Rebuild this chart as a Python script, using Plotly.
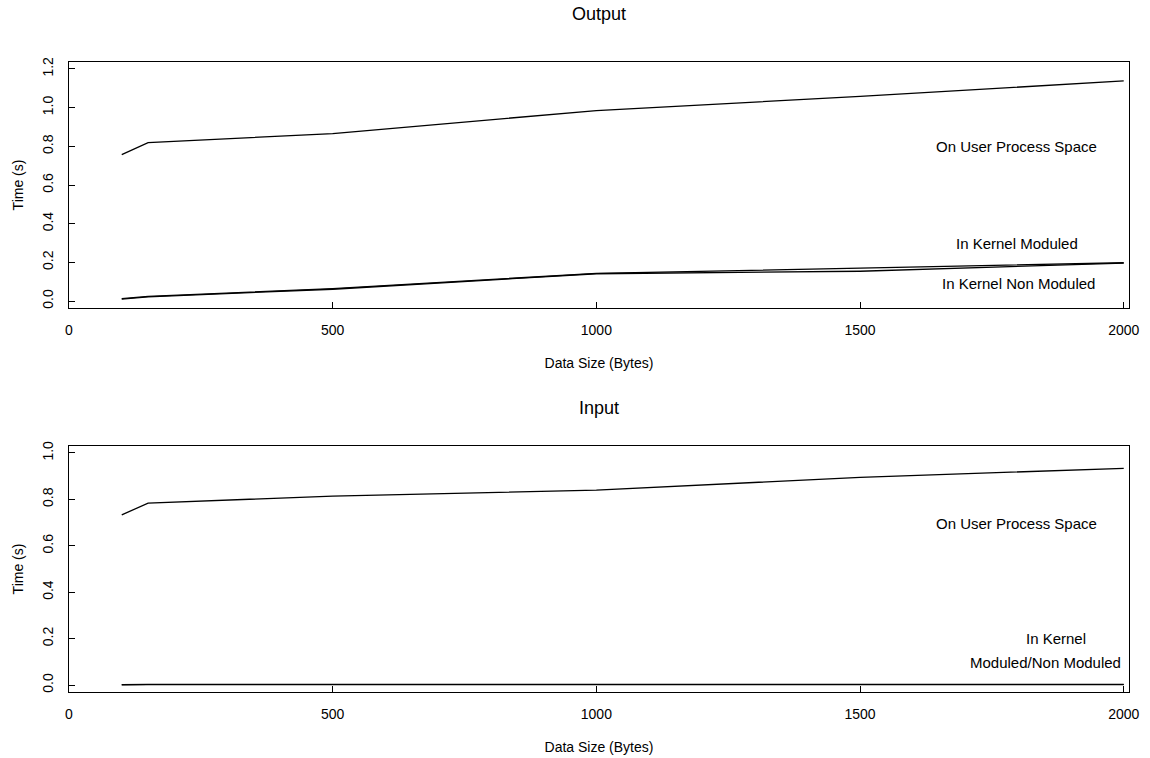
import plotly.graph_objects as go
from plotly.subplots import make_subplots

# Data sizes (bytes) at which timings were taken
data_size = [100, 150, 500, 1000, 1500, 2000]

# Output timings (seconds)
out_user = [0.757, 0.819, 0.866, 0.985, 1.058, 1.138]
out_kernel_mod = [0.012, 0.024, 0.064, 0.143, 0.170, 0.198]
out_kernel_nonmod = [0.010, 0.022, 0.061, 0.141, 0.154, 0.196]

# Input timings (seconds)
in_user = [0.733, 0.784, 0.814, 0.840, 0.895, 0.934]
in_kernel_mod = [0.002, 0.003, 0.003, 0.003, 0.006, 0.003]
in_kernel_nonmod = [0.001, 0.002, 0.002, 0.002, 0.004, 0.002]

x_ticks = [0, 500, 1000, 1500, 2000]
out_y_ticks = [0.0, 0.2, 0.4, 0.6, 0.8, 1.0, 1.2]
in_y_ticks = [0.0, 0.2, 0.4, 0.6, 0.8, 1.0]

FONT = "Liberation Sans, Arial, Helvetica, sans-serif"
W, H = 1150, 758
ML, MR, MT, MB = 69, 21, 62, 66
PH = H - MT - MB

def py(pix):
    return (H - MB - pix) / PH

fig = make_subplots(rows=2, cols=1)

line = dict(color="black", width=1.3)
for ys, r in [(out_user, 1), (out_kernel_mod, 1), (out_kernel_nonmod, 1),
              (in_user, 2), (in_kernel_mod, 2), (in_kernel_nonmod, 2)]:
    fig.add_trace(go.Scatter(x=data_size, y=ys, mode="lines", line=line,
                             showlegend=False, hoverinfo="x+y"), row=r, col=1)

axis_common = dict(
    showline=True, linecolor="black", linewidth=1.2, mirror=True,
    ticks="inside", ticklen=6, tickcolor="black", tickwidth=1,
    showgrid=False, zeroline=False, automargin=False,
    tickfont=dict(family=FONT, size=14, color="black"),
    ticklabelstandoff=9,
)
title_font = dict(family=FONT, size=14, color="black")

fig.update_layout(
    width=W, height=H,
    margin=dict(l=ML, r=MR, t=MT, b=MB),
    paper_bgcolor="white", plot_bgcolor="white",
    font=dict(family=FONT, color="black"),
    xaxis=dict(domain=[0, 1], range=[0, 2010], tickvals=x_ticks,
               title=dict(text="Data Size (Bytes)", font=title_font, standoff=21),
               **axis_common),
    xaxis2=dict(domain=[0, 1], range=[0, 2010], tickvals=x_ticks,
                title=dict(text="Data Size (Bytes)", font=title_font, standoff=21),
                **axis_common),
    yaxis=dict(domain=[py(308), 1.0], range=[-0.036, 1.236], tickvals=out_y_ticks,
               tickformat=".1f", tickangle=-90,
               title=dict(text="Time (s)", font=title_font, standoff=13),
               **axis_common),
    yaxis2=dict(domain=[0.0, py(446)], range=[-0.03, 1.03], tickvals=in_y_ticks,
                tickformat=".1f", tickangle=-90,
                title=dict(text="Time (s)", font=title_font, standoff=13),
                **axis_common),
)

# Panel titles
for text, ypix in [("Output", 14), ("Input", 408)]:
    fig.add_annotation(text=text, xref="paper", yref="paper", x=0.5, y=py(ypix),
                       xanchor="center", yanchor="middle", showarrow=False,
                       font=dict(family=FONT, size=18, color="black"))

# Curve labels
labels = [
    ("On User Process Space", 1797, 0.797, "x", "y"),
    ("In Kernel Moduled", 1797, 0.300, "x", "y"),
    ("In Kernel Non Moduled", 1801, 0.093, "x", "y"),
    ("On User Process Space", 1797, 0.697, "x2", "y2"),
    ("In Kernel", 1871, 0.202, "x2", "y2"),
    ("Moduled/Non Moduled", 1852, 0.099, "x2", "y2"),
]
for text, xv, yv, xr, yr in labels:
    fig.add_annotation(text=text, x=xv, y=yv, xref=xr, yref=yr,
                       xanchor="center", yanchor="middle", showarrow=False,
                       font=dict(family=FONT, size=15, color="black"))

fig.write_html("out.html")
